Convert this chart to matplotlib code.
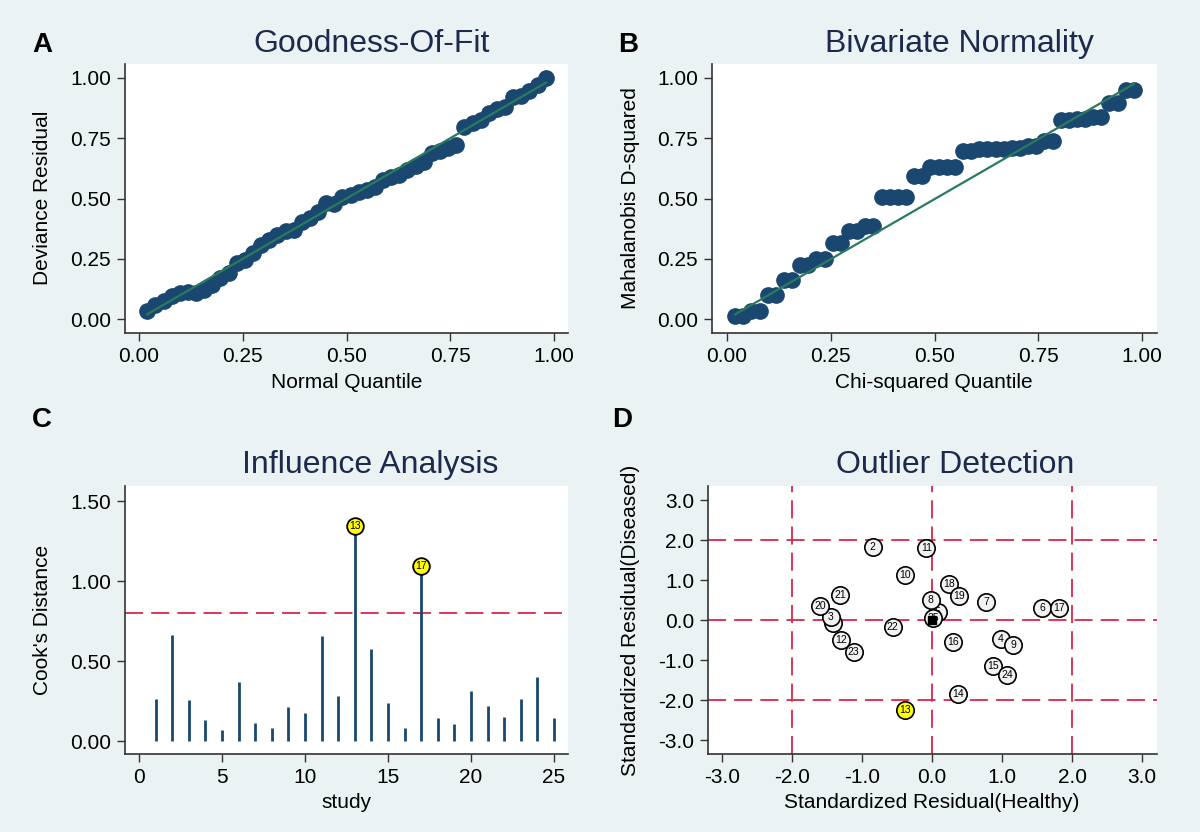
import matplotlib
matplotlib.use("Agg")
import matplotlib.pyplot as plt
import numpy as np

plt.rcParams['font.family'] = ['Liberation Sans', 'DejaVu Sans']

# ---------------- data ----------------
n_pts = 50
quantiles = [i / (n_pts + 1) for i in range(1, n_pts + 1)]

deviance_residual = [0.035, 0.058, 0.076, 0.095, 0.107, 0.113, 0.110, 0.120, 0.141, 0.169,
                     0.190, 0.231, 0.245, 0.273, 0.307, 0.328, 0.349, 0.366, 0.369, 0.404,
                     0.418, 0.445, 0.483, 0.477, 0.505, 0.515, 0.528, 0.535, 0.549, 0.577,
                     0.588, 0.598, 0.618, 0.635, 0.653, 0.687, 0.698, 0.708, 0.722, 0.798,
                     0.815, 0.826, 0.853, 0.870, 0.881, 0.922, 0.925, 0.947, 0.971, 0.999]

mahalanobis_d2 = [0.012, 0.012, 0.034, 0.034, 0.100, 0.100, 0.160, 0.160, 0.224, 0.224,
                  0.248, 0.248, 0.317, 0.317, 0.365, 0.365, 0.387, 0.387, 0.507, 0.507,
                  0.507, 0.507, 0.593, 0.593, 0.629, 0.629, 0.629, 0.629, 0.697, 0.697,
                  0.704, 0.704, 0.704, 0.704, 0.708, 0.708, 0.718, 0.718, 0.739, 0.739,
                  0.826, 0.826, 0.829, 0.829, 0.837, 0.837, 0.895, 0.895, 0.950, 0.950]

studies = list(range(1, 26))
cooks_d = [0.26, 0.66, 0.256, 0.133, 0.069, 0.369, 0.11, 0.081, 0.2125, 0.173,
           0.658, 0.281, 1.346, 0.573, 0.2375, 0.083, 1.094, 0.142, 0.104, 0.3125,
           0.217, 0.15, 0.265, 0.402, 0.142]
cooks_threshold = 0.8
influential = [13, 17]

outlier_labels = ['1', '2', '3', '4', '5', '6', '7', '8', '9', '10', '11', '12', '13',
                  '14', '15', '16', '17', '18', '19', '20', '21', '22', '23', '24', '25']
resid_healthy = [-1.42, -0.85, -1.45, 0.98, 0.08, 1.57, 0.77, -0.02, 1.16, -0.39, -0.08, -1.30, -0.39,
                 0.37, 0.87, 0.30, 1.81, 0.24, 0.38, -1.60, -1.31, -0.56, -1.12, 1.07, 0.02]
resid_diseased = [-0.08, 1.82, 0.08, -0.48, 0.21, 0.31, 0.46, 0.49, -0.63, 1.13, 1.81, -0.51, -2.26,
                  -1.85, -1.14, -0.54, 0.31, 0.89, 0.59, 0.34, 0.63, -0.18, -0.79, -1.38, 0.05]
outlier_flag = ['13']

# ---------------- style ----------------
BG = '#EAF2F3'
NAVY = '#1a476f'
GREEN = '#2a7a5e'
RED = '#d9264a'
TITLE_C = '#1c2a4d'
SPINE = '#333333'
TICK_FS = 15
LABEL_FS = 15
TITLE_FS = 23
LETTER_FS = 20

W, H = 1200, 832
fig = plt.figure(figsize=(W / 100, H / 100), dpi=100, facecolor=BG)


def add_ax(left, right, top, bottom):
    ax = fig.add_axes([left / W, 1 - bottom / H, (right - left) / W, (bottom - top) / H])
    ax.set_facecolor('white')
    for s in ['top', 'right']:
        ax.spines[s].set_visible(False)
    for s in ['left', 'bottom']:
        ax.spines[s].set_color(SPINE)
        ax.spines[s].set_linewidth(1.2)
    ax.tick_params(direction='out', length=6, width=1.0, color=SPINE,
                   labelsize=TICK_FS, pad=4)
    return ax


def ftext(x, y, s, **kw):
    fig.text(x / W, 1 - y / H, s, **kw)


# ---- Panel A ----
axA = add_ax(125, 568, 64, 333)
axA.plot([quantiles[0], quantiles[-1]], [quantiles[0], quantiles[-1]], color=GREEN, lw=1.6, zorder=3)
axA.plot(quantiles, deviance_residual, 'o', color=NAVY, ms=11, zorder=2)
axA.set_xlim(-0.034, 1.034)
axA.set_ylim(-0.058, 1.058)
ticks01 = [0, 0.25, 0.5, 0.75, 1.0]
axA.set_xticks(ticks01)
axA.set_xticklabels(['%.2f' % t for t in ticks01])
axA.set_yticks(ticks01)
axA.set_yticklabels(['%.2f' % t for t in ticks01])

# ---- Panel B ----
axB = add_ax(712, 1157, 64, 333)
axB.plot([quantiles[0], quantiles[-1]], [quantiles[0] * 0.98, quantiles[-1] * 0.995], color=GREEN, lw=1.6, zorder=3)
axB.plot(quantiles, mahalanobis_d2, 'o', color=NAVY, ms=11, zorder=2)
axB.set_xlim(-0.036, 1.036)
axB.set_ylim(-0.058, 1.058)
axB.set_xticks(ticks01)
axB.set_xticklabels(['%.2f' % t for t in ticks01])
axB.set_yticks(ticks01)
axB.set_yticklabels(['%.2f' % t for t in ticks01])

# ---- Panel C ----
axC = add_ax(125, 568, 486, 754)
axC.vlines(studies, 0, cooks_d, color=NAVY, lw=2.0, zorder=2)
axC.axhline(cooks_threshold, color=RED, lw=1.3, dashes=(10, 4.5), zorder=1)
for s in influential:
    v = cooks_d[s - 1]
    axC.plot(s, v, 'o', ms=12, mfc='#ffff00', mec='black', mew=1.3, zorder=4)
    axC.text(s, v, str(s), ha='center', va='center', fontsize=7.5, zorder=5)
axC.set_xlim(-0.84, 25.84)
axC.set_ylim(-0.081, 1.594)
axC.set_xticks([0, 5, 10, 15, 20, 25])
axC.set_yticks([0, 0.5, 1.0, 1.5])
axC.set_yticklabels(['0.00', '0.50', '1.00', '1.50'])

# ---- Panel D ----
axD = add_ax(708, 1157, 486, 754)
for v in [-2, 0, 2]:
    axD.axvline(v, color=RED, lw=1.3, dashes=(10, 4.5), zorder=1)
    axD.axhline(v, color=RED, lw=1.3, dashes=(10, 4.5), zorder=1)
for k, (lab, xh, yd) in enumerate(zip(outlier_labels, resid_healthy, resid_diseased)):
    fc = '#ffff00' if lab in outlier_flag else '#f2f2f2'
    axD.plot(xh, yd, 'o', ms=12.5, mfc=fc, mec='black', mew=1.2, zorder=3 + 0.01 * k)
    axD.text(xh, yd, lab, ha='center', va='center', fontsize=7.5, zorder=3.005 + 0.01 * k)
axD.plot(0, 0, 's', ms=6, color='black', zorder=6)
axD.set_xlim(-3.2, 3.214)
axD.set_ylim(-3.35, 3.35)
dt = [-3, -2, -1, 0, 1, 2, 3]
axD.set_xticks(dt)
axD.set_xticklabels(['%.1f' % t for t in dt])
axD.set_yticks(dt)
axD.set_yticklabels(['%.1f' % t for t in dt])

# ---- texts ----
ftext(42, 45, 'A', fontsize=LETTER_FS, fontweight='bold', ha='center', va='center')
ftext(628, 45, 'B', fontsize=LETTER_FS, fontweight='bold', ha='center', va='center')
ftext(42, 420, 'C', fontsize=LETTER_FS, fontweight='bold', ha='center', va='center')
ftext(622, 420, 'D', fontsize=LETTER_FS, fontweight='bold', ha='center', va='center')

ftext(372, 44, 'Goodness-Of-Fit', fontsize=TITLE_FS, color=TITLE_C, ha='center', va='center')
ftext(959, 44, 'Bivariate Normality', fontsize=TITLE_FS, color=TITLE_C, ha='center', va='center')
ftext(370, 465, 'Influence Analysis', fontsize=TITLE_FS, color=TITLE_C, ha='center', va='center')
ftext(955, 465, 'Outlier Detection', fontsize=TITLE_FS, color=TITLE_C, ha='center', va='center')

ftext(347, 382, 'Normal Quantile', fontsize=LABEL_FS, ha='center', va='center')
ftext(934, 382, 'Chi-squared Quantile', fontsize=LABEL_FS, ha='center', va='center')
ftext(347, 803, 'study', fontsize=LABEL_FS, ha='center', va='center')
ftext(932, 803, 'Standardized Residual(Healthy)', fontsize=LABEL_FS, ha='center', va='center')

ftext(42, 198, 'Deviance Residual', fontsize=LABEL_FS, rotation=90, ha='center', va='center')
ftext(630, 198, 'Mahalanobis D-squared', fontsize=LABEL_FS, rotation=90, ha='center', va='center')
ftext(42, 620, "Cook's Distance", fontsize=LABEL_FS, rotation=90, ha='center', va='center')
ftext(630, 620, 'Standardized Residual(Diseased)', fontsize=LABEL_FS, rotation=90, ha='center', va='center')

fig.savefig('out.png', dpi=100, facecolor=BG)
